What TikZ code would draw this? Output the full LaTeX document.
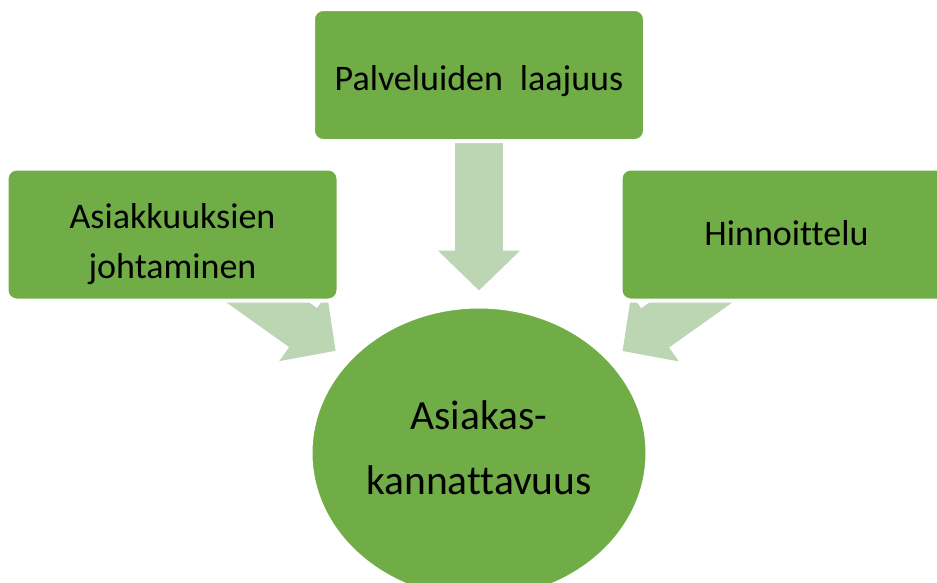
\documentclass[tikz,border=0pt]{standalone}
\usepackage{fontspec}
\setmainfont{Carlito}[Ligatures={NoCommon}]
\usetikzlibrary{arrows.meta,shapes.geometric,backgrounds}
\definecolor{boxgreen}{HTML}{70AD47}
\definecolor{arrowgreen}{HTML}{BCD5B2}
\tikzset{
  greenbox/.style={rectangle, rounded corners=10pt, fill=boxgreen, draw=white, line width=4pt,
    minimum width=332pt, minimum height=132pt, inner sep=0pt, align=center, text=black,
    font=\fontsize{36}{50}\selectfont},
  centre/.style={ellipse, fill=boxgreen, draw=white, line width=3pt,
    minimum width=336pt, minimum height=292pt, inner sep=0pt, align=center, text=black,
    font=\fontsize{41.5}{65}\selectfont},
  bigarrow/.style={line width=48pt, draw=arrowgreen,
    -{Triangle[length=40pt,width=80pt]}, shorten >=15pt},
}
\begin{document}
\begin{tikzpicture}[x=1pt,y=-1pt]
\useasboundingbox (0,0) rectangle (937,582);
\clip (0,0) rectangle (937,582);
\node[greenbox, text height=30pt, text depth=0pt] (top) at (479,75) {Palveluiden\hspace{17pt}laajuus};
\node[greenbox, text height=87pt, text depth=0pt] (left) at (172.5,234.5) {Asiakkuuksien\\johtaminen};
\node[greenbox, text height=21pt, text depth=0pt] (right) at (786.5,234.5) {Hinnoittelu};
\node[centre, text height=82pt, text depth=0pt] (ell) at (479,453) {Asiakas-\\kannattavuus};
\begin{scope}[on background layer]
  \draw[bigarrow, shorten <=-4pt] (top) -- (ell);
  \draw[bigarrow, shorten <=-35pt] (left) -- (ell);
  \draw[bigarrow, shorten <=-35pt] (right) -- (ell);
\end{scope}
\end{tikzpicture}
\end{document}
